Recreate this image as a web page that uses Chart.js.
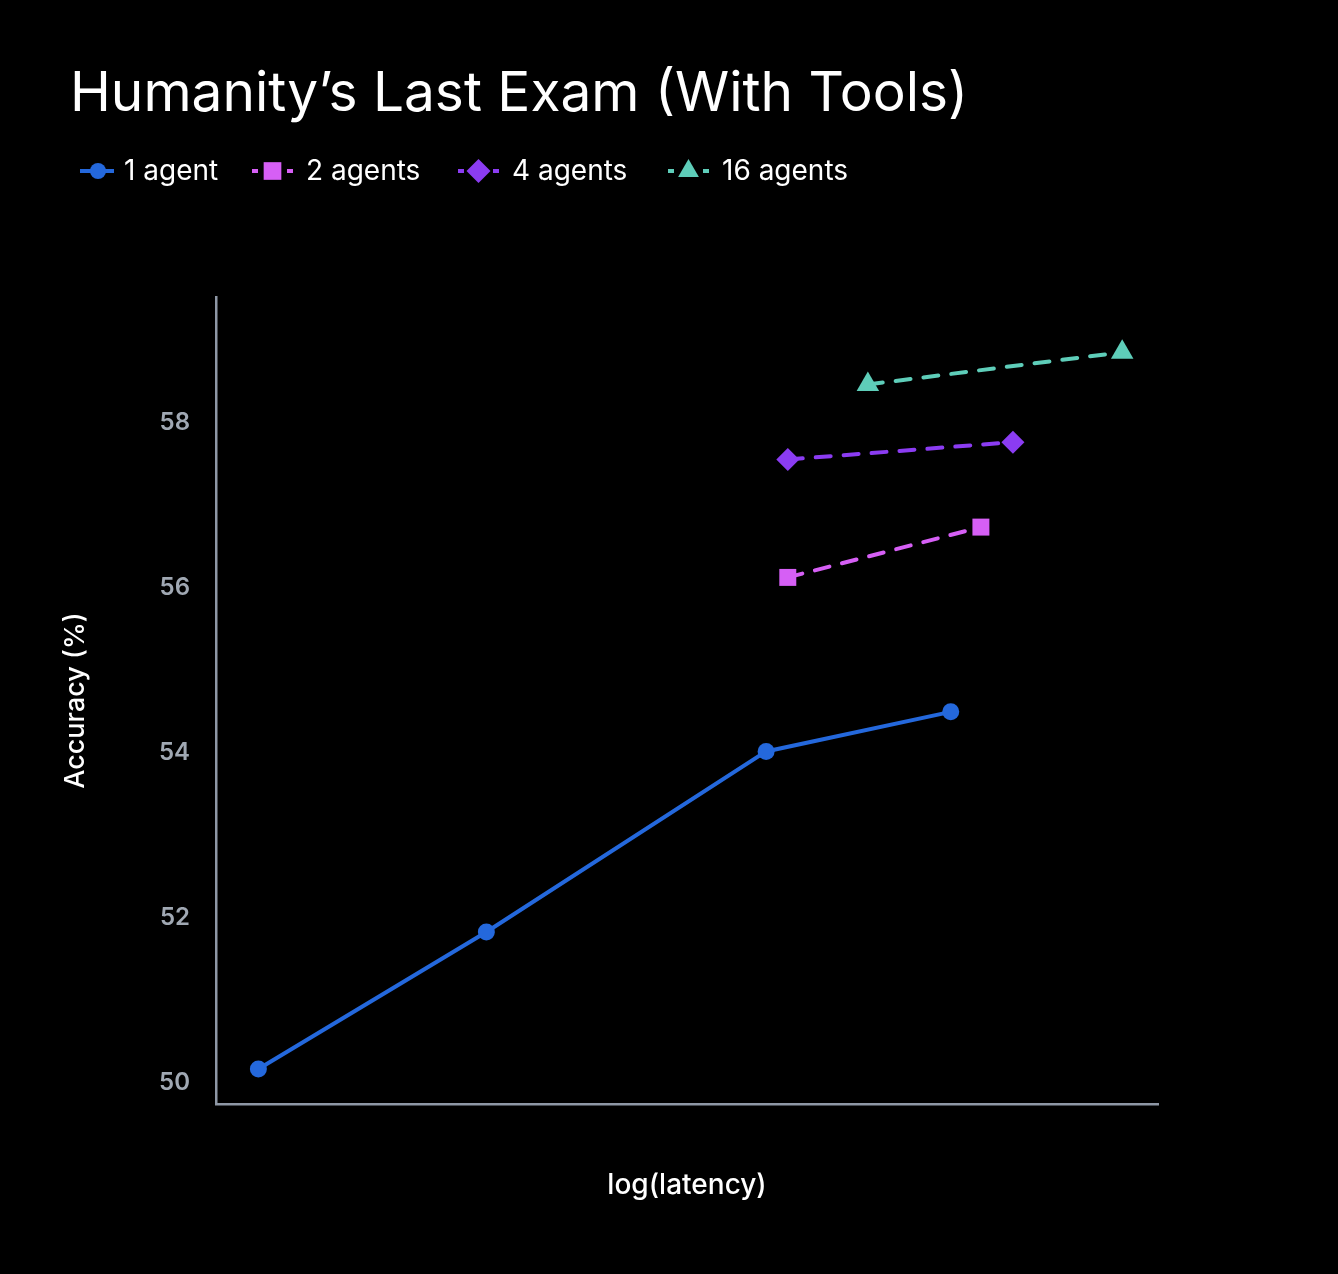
<!DOCTYPE html>
<html>
<head>
<meta charset="utf-8">
<script src="https://cdn.jsdelivr.net/npm/chart.js@4.4.1/dist/chart.umd.min.js"></script>
<style>
  html, body { margin: 0; padding: 0; background: #000; }
  #wrap { width: 1338px; height: 1274px; }
</style>
</head>
<body>
<div id="wrap"><canvas id="chart" width="1338" height="1274"></canvas></div>
<script>
const chartTitle = "Humanity\u2019s Last Exam (With Tools)";
const seriesNames = ["1 agent", "2 agents", "4 agents", "16 agents"];
const seriesColors = ["#2468dc", "#d65ff5", "#8b3cf2", "#5ecdb9"];
const seriesShapes = ["circle", "rect", "rectRot", "triangle"];

// x is log(latency) in arbitrary units, y is accuracy (%)
const latency1 = [0.45, 2.87, 5.84, 7.80];
const accuracy1 = [50.17, 51.83, 54.02, 54.50];
const latency2 = [6.07, 8.12];
const accuracy2 = [56.13, 56.74];
const latency4 = [6.07, 8.46];
const accuracy4 = [57.56, 57.77];
const latency16 = [6.92, 9.62];
const accuracy16 = [58.47, 58.86];

const yTicks = [50, 52, 54, 56, 58];

const pts = (xs, ys) => xs.map((x, i) => ({ x: x, y: ys[i] }));
const allX = [latency1, latency2, latency4, latency16];
const allY = [accuracy1, accuracy2, accuracy4, accuracy16];

const datasets = seriesNames.map((name, i) => ({
  label: name,
  data: pts(allX[i], allY[i]),
  borderColor: seriesColors[i],
  backgroundColor: seriesColors[i],
  borderWidth: 4,
  borderDash: i === 0 ? [] : [15, 13],
  borderCapStyle: "round",
  pointStyle: seriesShapes[i],
  pointRadius: [8.5, 12, 11.5, 13][i],
  pointBorderWidth: 0,
  tension: 0,
}));

// title + legend drawn on top
const headerPlugin = {
  id: "header",
  afterDraw(chart) {
    const ctx = chart.ctx;
    ctx.save();
    ctx.fillStyle = "#fff";
    ctx.font = "400 55px Inter";
    ctx.textBaseline = "alphabetic";
    ctx.fillText(chartTitle, 70, 111);

    const starts = [80, 252, 458, 668];
    ctx.font = "28px Inter";
    ctx.textBaseline = "middle";
    seriesNames.forEach((name, i) => {
      const x0 = starts[i], y = 171;
      ctx.strokeStyle = seriesColors[i];
      ctx.fillStyle = seriesColors[i];
      ctx.lineWidth = 4;
      ctx.lineCap = "butt";
      ctx.beginPath();
      if (i === 0) {
        ctx.moveTo(x0, y); ctx.lineTo(x0 + 34, y);
      } else {
        ctx.moveTo(x0, y); ctx.lineTo(x0 + 6, y);
        ctx.moveTo(x0 + 35, y); ctx.lineTo(x0 + 41, y);
      }
      ctx.stroke();
      const r = [8, 12.5, 12, 12][i];
      Chart.helpers.drawPoint(ctx, { pointStyle: seriesShapes[i], radius: r, borderWidth: 0 },
        i === 0 ? x0 + 18 : x0 + 20.5, y);
      ctx.fillStyle = "#fff";
      ctx.fillText(name, i === 0 ? x0 + 44 : x0 + 54, y + 1);
    });
    ctx.restore();
  }
};

new Chart(document.getElementById("chart"), {
  type: "line",
  data: { datasets: datasets },
  plugins: [headerPlugin],
  options: {
    responsive: false,
    animation: false,
    layout: { padding: { left: 0, right: 180, top: 297, bottom: 0 } },
    plugins: {
      legend: { display: false },
      title: { display: false },
      tooltip: { enabled: false },
    },
    scales: {
      x: {
        type: "linear",
        min: 0,
        max: 10,
        grid: { display: false, drawTicks: false },
        border: { display: true, color: "#8e97a5", width: 2.5 },
        ticks: { display: false },
        title: {
          display: true,
          text: "log(latency)",
          color: "#fff",
          font: { family: "Inter", size: 28, weight: "500" },
          padding: { bottom: 72 },
        },
        afterFit(scale) { scale.height = 170; },
      },
      y: {
        min: 49.745,
        max: 59.53,
        afterBuildTicks(scale) { scale.ticks = yTicks.map(v => ({ value: v })); },
        grid: { display: false, drawTicks: false },
        border: { display: true, color: "#8e97a5", width: 2.5 },
        ticks: {
          color: "#a0a8b3",
          padding: 26,
          font: { family: "Inter", size: 24, weight: "600" },
        },
        title: {
          display: true,
          text: "Accuracy (%)",
          color: "#fff",
          font: { family: "Inter", size: 27, weight: "500" },
          padding: { top: 60 },
        },
        afterFit(scale) { scale.width = 216; },
      },
    },
  },
});
</script>
</body>
</html>
